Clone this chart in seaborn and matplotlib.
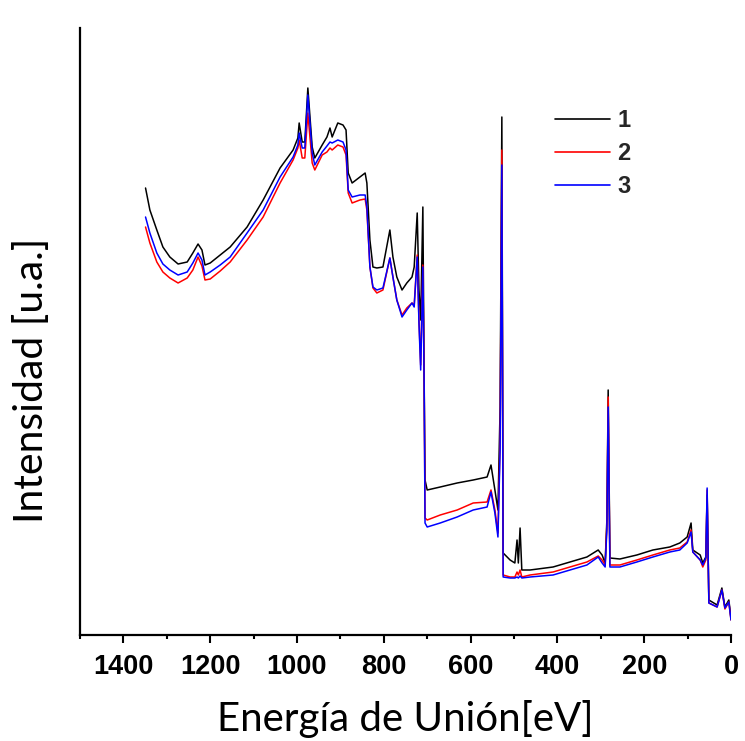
import numpy as np
import pandas as pd
import matplotlib
matplotlib.use("Agg")
import matplotlib.pyplot as plt
import seaborn as sns
from matplotlib.ticker import MultipleLocator

# Binding energy (eV) sample points
energy = [1349, 1339, 1323, 1309, 1293, 1274, 1253, 1240, 1228, 1219,
          1212, 1200, 1177, 1154, 1115, 1078, 1039, 1009, 998, 995,
          988, 982, 975, 965, 959, 942, 931, 924, 919, 906,
          894, 887, 882, 873, 855, 843, 839, 832, 825, 816,
          802, 786, 779, 770, 758, 747, 735, 730, 723, 719,
          715, 710, 707, 705, 700, 670, 631, 594, 562, 553,
          544, 537, 532, 528, 525, 509, 498, 493, 490, 486,
          482, 463, 410, 371, 332, 306, 297, 290, 286, 283,
          279, 256, 217, 180, 141, 118, 101, 92, 88, 71,
          65, 58, 55, 51, 32, 21, 14, 5, 0]

# Intensities (a.u.)
sample_1 = [447, 425, 405, 388, 378, 371, 373, 382, 391, 385,
            370, 372, 380, 388, 408, 435, 467, 485, 497, 512,
            493, 493, 547, 488, 477, 490, 498, 507, 498, 512,
            510, 505, 462, 452, 458, 462, 452, 395, 368, 367,
            368, 405, 378, 358, 345, 352, 358, 368, 422, 345,
            315, 428, 255, 155, 145, 148, 152, 155, 158, 170,
            145, 125, 228, 518, 82, 75, 72, 95, 72, 107,
            65, 65, 68, 73, 78, 85, 80, 72, 115, 245,
            77, 76, 80, 85, 88, 92, 98, 112, 85, 80,
            72, 78, 140, 35, 30, 47, 28, 35, 17]

sample_2 = [408, 392, 373, 363, 357, 352, 357, 365, 378, 369,
            355, 356, 364, 373, 395, 418, 452, 475, 487, 495,
            477, 477, 522, 472, 465, 480, 483, 487, 485, 490,
            488, 480, 442, 432, 435, 436, 425, 368, 347, 342,
            345, 377, 358, 335, 320, 327, 332, 330, 380, 315,
            270, 370, 252, 117, 115, 120, 125, 132, 133, 145,
            125, 102, 195, 485, 60, 58, 58, 63, 60, 65,
            58, 60, 63, 68, 73, 79, 75, 70, 110, 238,
            70, 70, 75, 80, 85, 87, 93, 105, 83, 75,
            68, 75, 145, 32, 28, 45, 26, 33, 15]

sample_3 = [418, 402, 382, 371, 365, 360, 363, 372, 382, 375,
            360, 363, 370, 378, 402, 425, 458, 478, 490, 502,
            487, 487, 540, 482, 470, 483, 489, 493, 492, 495,
            493, 485, 445, 438, 440, 440, 428, 368, 348, 345,
            347, 377, 358, 335, 318, 325, 332, 328, 378, 312,
            265, 368, 250, 112, 108, 112, 118, 125, 128, 143,
            122, 98, 185, 470, 58, 57, 57, 58, 57, 59,
            57, 58, 60, 65, 70, 78, 72, 68, 105, 228,
            68, 68, 73, 78, 83, 85, 92, 103, 83, 75,
            70, 77, 147, 32, 28, 45, 27, 33, 15]

labels = ["1", "2", "3"]
colors = ["#000000", "#ff0000", "#0000ff"]
x_ticks = [1400, 1200, 1000, 800, 600, 400, 200, 0]

frames = []
for lab, vals in zip(labels, [sample_1, sample_2, sample_3]):
    frames.append(pd.DataFrame({"energy": energy, "intensity": vals, "sample": lab}))
df = pd.concat(frames, ignore_index=True)

sns.set_theme(style="ticks")
plt.rcParams["font.family"] = ["Liberation Sans", "DejaVu Sans"]

fig = plt.figure(figsize=(7.45, 7.41), dpi=100)
ax = fig.add_axes([80 / 745, 1 - 635 / 741, 651 / 745, (635 - 28) / 741])

sns.lineplot(data=df, x="energy", y="intensity", hue="sample",
             palette=colors, estimator=None, sort=False, linewidth=1.1, ax=ax)

ax.set_xlim(1500, 0)
ax.set_ylim(0, 607)
ax.set_xticks(x_ticks)
ax.xaxis.set_minor_locator(MultipleLocator(100))
ax.set_yticks([])

for s in ["top", "right"]:
    ax.spines[s].set_visible(False)
for s in ["left", "bottom"]:
    ax.spines[s].set_linewidth(1.6)
    ax.spines[s].set_color("black")

ax.tick_params(axis="x", which="major", direction="out", length=6, width=1.5,
               pad=8, colors="black")
ax.tick_params(axis="x", which="minor", direction="out", length=3, width=1.5,
               colors="black")
for t in ax.get_xticklabels():
    t.set_family(["Liberation Sans", "DejaVu Sans"])
    t.set_fontweight("bold")
    t.set_fontsize(19.5)

ax.set_xlabel("Energía de Unión[eV]", fontsize=29, family=["Lato", "DejaVu Sans"],
              labelpad=14, color="black")
ax.set_ylabel("Intensidad [u.a.]", fontsize=29.5, family=["Lato", "DejaVu Sans"],
              color="black")
ax.yaxis.set_label_coords(-0.046, 0.42)

leg = ax.legend(loc="upper left", bbox_to_anchor=(0.7296, 0.8666), frameon=False,
                borderaxespad=0, borderpad=0,
                handlelength=2.33, handletextpad=0.3, labelspacing=0.42,
                prop={"family": ["Liberation Sans", "DejaVu Sans"],
                      "weight": "bold", "size": 17})
for line in leg.get_lines():
    line.set_linewidth(1.2)

fig.savefig("out.png", dpi=100, facecolor="white")
